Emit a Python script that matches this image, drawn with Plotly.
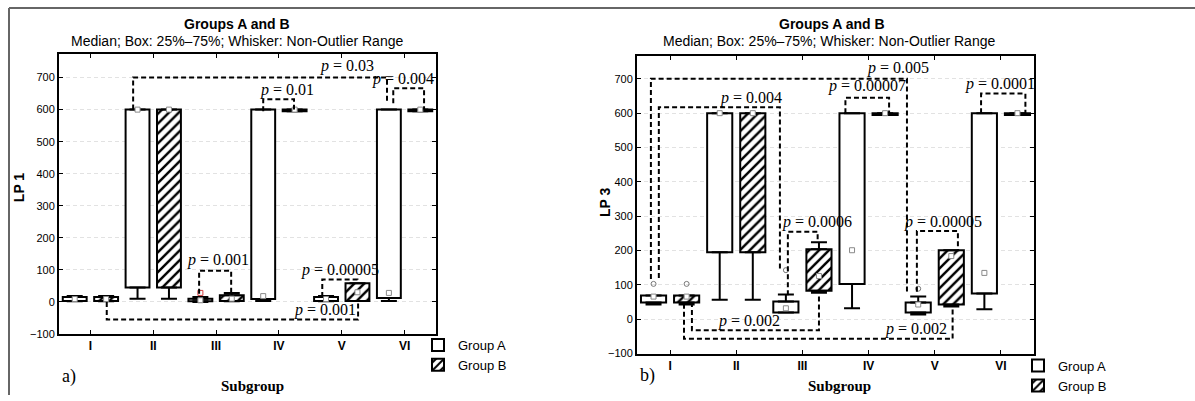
import plotly.graph_objects as go

# ---------------- data ----------------
categories = ["I", "II", "III", "IV", "V", "VI"]
y_ticks = [-100, 0, 100, 200, 300, 400, 500, 600, 700]

# LP 1 (panel a) : lower whisker, Q1, median, Q3, upper whisker
lp1_a_lo  = [2, 10, 0, 3, 2, 3]
lp1_a_q1  = [3, 45, 2, 9, 3, 12]
lp1_a_med = [9, 600, 5, 18, 9, 28]
lp1_a_q3  = [15, 600, 10, 600, 15, 600]
lp1_a_hi  = [18, 600, 15, 600, 18, 600]

lp1_b_lo  = [2, 10, 2, 595, 3, 595]
lp1_b_q1  = [3, 45, 3, 595, 3, 595]
lp1_b_med = [9, 600, 10, 600, 30, 600]
lp1_b_q3  = [15, 600, 21, 600, 58, 600]
lp1_b_hi  = [18, 600, 28, 600, 58, 600]

lp1_out_cat = [2]
lp1_out_val = [28]

# LP 3 (panel b)
lp3_a_lo  = [43, 57, 20, 32, 14, 29]
lp3_a_q1  = [49, 195, 20, 103, 20, 75]
lp3_a_med = [66, 600, 32, 201, 43, 135]
lp3_a_q3  = [69, 600, 52, 600, 49, 600]
lp3_a_hi  = [69, 600, 72, 600, 66, 600]

lp3_b_lo  = [43, 57, 77, 595, 37, 595]
lp3_b_q1  = [49, 195, 83, 595, 43, 595]
lp3_b_med = [66, 600, 126, 600, 184, 600]
lp3_b_q3  = [69, 600, 204, 600, 201, 600]
lp3_b_hi  = [69, 600, 224, 600, 201, 600]

lp3_out_a_cat = [0, 2, 4]
lp3_out_a_val = [103, 143, 89]
lp3_out_b_cat = [0]
lp3_out_b_val = [103]

# significance brackets: x1, x2 (category units), y at left end, y of bar, y at right end, label, label x, label y
lp1_brackets = [
    (0.68, 4.72, 600, 700, 620, "0.03", 4.09, 735),
    (4.82, 5.31, 620, 667, 600, "0.004", 4.98, 697),
    (2.75, 3.24, 595, 632, 600, "0.01", 3.13, 662),
    (1.73, 2.24, 25, 97, 30, "0.001", 2.03, 130),
    (3.69, 4.25, 15, 70, 60, "0.00005", 3.97, 98),
    (0.26, 4.26, 0, -55, 0, "0.001", 3.74, -25),
]
lp3_brackets = [
    (-0.29, 3.58, 117, 700, 78, "0.005", 3.45, 732),
    (-0.17, 1.66, 120, 617, 140, "0.004", 1.23, 645),
    (2.65, 3.31, 600, 645, 600, "0.00007", 2.98, 678),
    (4.70, 5.37, 600, 657, 600, "0.0001", 4.98, 686),
    (1.78, 2.23, 70, 255, 230, "0.0006", 2.22, 283),
    (0.33, 2.25, 50, -32, 75, "0.002", 1.19, -6),
    (0.21, 4.27, 45, -57, 40, "0.002", 3.72, -27),
    (3.73, 4.35, 80, 257, 200, "0.00005", 4.12, 283),
]

OFFSET = 0.25
BOXW = 0.38
W, H = 1195, 401

fig = go.Figure()


def add_group(xa, ya, lo, q1, med, q3, hi, off, hatched, name, legend, showleg):
    xs = [i + off for i in range(len(categories))]
    marker = dict(color="white", line=dict(color="black", width=2))
    if hatched:
        marker["pattern"] = dict(shape="/", fgcolor="black", bgcolor="white",
                                 size=7, solidity=0.35, fillmode="replace")
    fig.add_trace(go.Bar(x=xs, y=[b - a for a, b in zip(q1, q3)], base=q1,
                         width=BOXW, marker=marker, name=name,
                         xaxis=xa, yaxis=ya, legend=legend, showlegend=showleg,
                         hoverinfo="skip"))
    # lower whiskers
    fig.add_trace(go.Scatter(x=xs, y=q1, mode="markers", marker=dict(size=1, opacity=0),
                             error_y=dict(type="data", symmetric=False, array=[0] * len(xs),
                                          arrayminus=[a - l for a, l in zip(q1, lo)],
                                          color="black", thickness=2, width=8),
                             xaxis=xa, yaxis=ya, showlegend=False, hoverinfo="skip"))
    # upper whiskers
    fig.add_trace(go.Scatter(x=xs, y=q3, mode="markers", marker=dict(size=1, opacity=0),
                             error_y=dict(type="data", symmetric=False,
                                          array=[h - b for b, h in zip(q3, hi)],
                                          arrayminus=[0] * len(xs),
                                          color="black", thickness=2, width=8),
                             xaxis=xa, yaxis=ya, showlegend=False, hoverinfo="skip"))
    # medians
    fig.add_trace(go.Scatter(x=xs, y=med, mode="markers",
                             marker=dict(symbol="square", size=5, color="white",
                                         line=dict(color="#8a8a8a", width=1)),
                             xaxis=xa, yaxis=ya, showlegend=False, hoverinfo="skip"))


def add_brackets(xa, ya, brackets):
    bx, by = [], []
    for x1, x2, yl, yt, yr, *_ in brackets:
        bx += [x1, x1, x2, x2, None]
        by += [yl, yt, yt, yr, None]
    fig.add_trace(go.Scatter(x=bx, y=by, mode="lines",
                             line=dict(color="black", width=2, dash="5px,3px"),
                             xaxis=xa, yaxis=ya, showlegend=False, hoverinfo="skip"))
    for x1, x2, yl, yt, yr, lab, tx, ty in brackets:
        fig.add_annotation(x=tx, y=ty, xref=xa, yref=ya, text="<i>p</i> = " + lab,
                           showarrow=False,
                           font=dict(family="Liberation Serif, Times New Roman, serif",
                                     size=16, color="black"))


# panel a
add_group("x", "y", lp1_a_lo, lp1_a_q1, lp1_a_med, lp1_a_q3, lp1_a_hi, -OFFSET, False,
          "Group A", "legend", True)
add_group("x", "y", lp1_b_lo, lp1_b_q1, lp1_b_med, lp1_b_q3, lp1_b_hi, OFFSET, True,
          "Group B", "legend", True)
fig.add_trace(go.Scatter(x=[c - OFFSET for c in lp1_out_cat], y=lp1_out_val, mode="markers",
                         marker=dict(symbol="square-open", size=5, color="#d04040"),
                         xaxis="x", yaxis="y", showlegend=False, hoverinfo="skip"))
add_brackets("x", "y", lp1_brackets)

# panel b
add_group("x2", "y2", lp3_a_lo, lp3_a_q1, lp3_a_med, lp3_a_q3, lp3_a_hi, -OFFSET, False,
          "Group A", "legend2", True)
add_group("x2", "y2", lp3_b_lo, lp3_b_q1, lp3_b_med, lp3_b_q3, lp3_b_hi, OFFSET, True,
          "Group B", "legend2", True)
fig.add_trace(go.Scatter(x=[c - OFFSET for c in lp3_out_a_cat] + [c + OFFSET for c in lp3_out_b_cat],
                         y=lp3_out_a_val + lp3_out_b_val, mode="markers",
                         marker=dict(symbol="circle-open", size=5, color="#777777"),
                         xaxis="x2", yaxis="y2", showlegend=False, hoverinfo="skip"))
add_brackets("x2", "y2", lp3_brackets)

sans = "Liberation Sans, Arial, sans-serif"
serif = "Liberation Serif, Times New Roman, serif"

xcommon = dict(range=[-0.5, 5.5], tickvals=list(range(6)), ticktext=categories,
               showline=True, linecolor="black", linewidth=2, mirror="allticks",
               ticks="inside", ticklen=4, tickcolor="black", showgrid=False, zeroline=False,
               tickfont=dict(family=sans, size=12, color="black", weight="bold"))
ycommon = dict(tickvals=y_ticks, showline=True, linecolor="black", linewidth=2,
               mirror="allticks", ticks="inside", ticklen=4, tickcolor="black",
               showgrid=True, gridcolor="#e2e2e2", griddash="4px,3px", gridwidth=1,
               zeroline=False, tickfont=dict(family=sans, size=11, color="black"))


def px_x(p):
    return p / W


def px_y(p):
    return 1 - p / H


fig.update_layout(
    width=W, height=H, margin=dict(l=0, r=0, t=0, b=0),
    paper_bgcolor="white", plot_bgcolor="white", barmode="overlay",
    xaxis=dict(domain=[px_x(59), px_x(436)], anchor="y", **xcommon),
    yaxis=dict(domain=[px_y(339), px_y(55)], anchor="x", range=[-100, 773], **ycommon),
    xaxis2=dict(domain=[px_x(637), px_x(1034)], anchor="y2", **xcommon),
    yaxis2=dict(domain=[px_y(359), px_y(57)], anchor="x2", range=[-100, 766], **ycommon),
    legend=dict(x=px_x(418), y=px_y(335), xanchor="left", yanchor="top",
                font=dict(family=sans, size=13, color="black"), bgcolor="rgba(0,0,0,0)",
                itemwidth=30, tracegroupgap=0),
    legend2=dict(x=px_x(1018), y=px_y(356), xanchor="left", yanchor="top",
                 font=dict(family=sans, size=13, color="black"), bgcolor="rgba(0,0,0,0)",
                 itemwidth=30, tracegroupgap=0),
    showlegend=True,
)

# frame
fig.add_shape(type="line", xref="paper", yref="paper", x0=px_x(9), x1=1, y0=px_y(8), y1=px_y(8),
              line=dict(color="#666666", width=2))
fig.add_shape(type="line", xref="paper", yref="paper", x0=px_x(9), x1=px_x(9), y0=0, y1=px_y(8),
              line=dict(color="#666666", width=2))

# texts
texts = [
    (237, 24, "<b>Groups A and B</b>", sans, 14, 0),
    (237, 42, "Median; Box: 25%–75%; Whisker: Non-Outlier Range", sans, 14, 0),
    (832, 24, "<b>Groups A and B</b>", sans, 14, 0),
    (829, 42, "Median; Box: 25%–75%; Whisker: Non-Outlier Range", sans, 14, 0),
    (252, 392, "<b>Subgroup</b>", serif, 15, 0),
    (840, 392, "<b>Subgroup</b>", serif, 15, 0),
    (69, 382, "a)", serif, 18, 0),
    (647, 381, "b)", serif, 18, 0),
    (19, 190, "<b>LP 1</b>", sans, 14, -90),
    (605, 205, "<b>LP 3</b>", sans, 14, -90),
]
for x, y, t, f, s, ang in texts:
    fig.add_annotation(x=px_x(x), y=px_y(y), xref="paper", yref="paper", text=t,
                       showarrow=False, textangle=ang, xanchor="center", yanchor="middle",
                       font=dict(family=f, size=s, color="black"))

fig.write_html("out.html")
